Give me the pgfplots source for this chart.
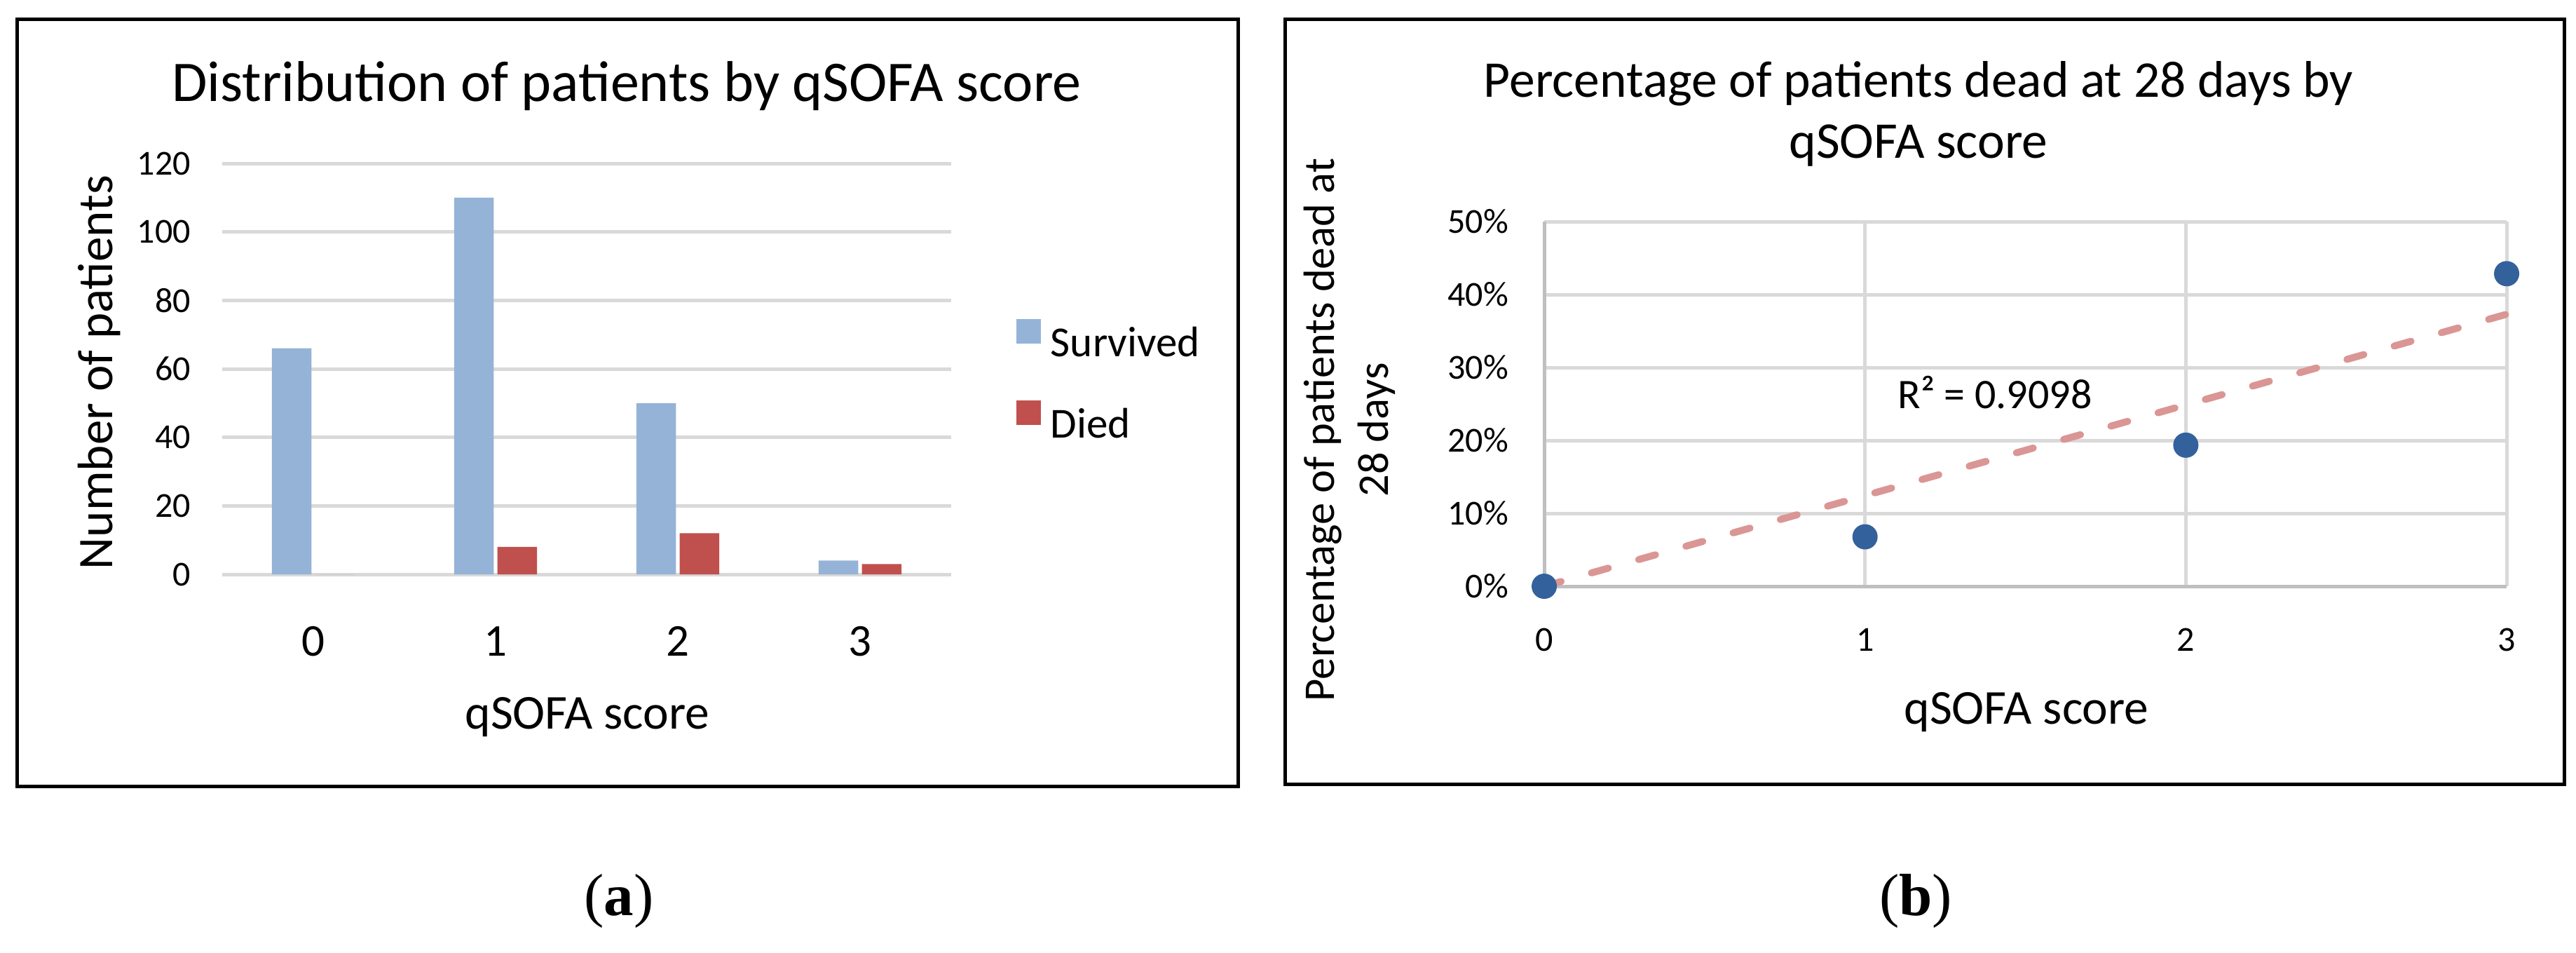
\documentclass[border=0pt]{standalone}
\usepackage{fontspec}
\setmainfont{Carlito}
\newfontfamily\serif{Liberation Serif}
\usepackage{pgfplots}
\pgfplotsset{compat=1.18}
\definecolor{surv}{HTML}{95B3D7}
\definecolor{died}{HTML}{C0504D}
\definecolor{gridc}{HTML}{D9D9D9}
\definecolor{axisc}{HTML}{BFBFBF}
\definecolor{mblue}{HTML}{33619C}
\definecolor{trend}{HTML}{DA9694}
\newcommand{\fs}[1]{\fontsize{#1}{#1}\selectfont}
\begin{document}
\begin{tikzpicture}
\path[use as bounding box] (0,0) rectangle (735pt,271.6pt);
\draw[line width=1pt] (4.8pt,266.2pt) rectangle (353.2pt,47.4pt);
\draw[line width=1pt] (366.6pt,266.2pt) rectangle (731.6pt,48pt);

\begin{axis}[
  at={(63.4pt,107.8pt)}, anchor=south west,
  scale only axis, width=208pt, height=117.2pt,
  xmin=-0.5, xmax=3.5, ymin=0, ymax=120,
  xtick={0,1,2,3}, ytick={0,20,...,120},
  ymajorgrids, grid style={gridc, line width=1pt},
  axis line style={draw=none}, major tick length=0pt,
  /pgf/number format/assume math mode=true,
  yticklabel style={anchor=east, inner sep=0pt, xshift=-8.8pt, font=\fs{10}},
  xticklabel style={anchor=base, inner sep=0pt, yshift=-23.2pt, font=\fs{13}},
  ybar=1.06pt, bar width=11.3pt,
  legend style={draw=none, fill=none, at={(rel axis cs:1.0894,0.622)}, anchor=north west,
    inner sep=0pt, outer sep=0pt, row sep=11pt, font=\fs{12.2}, nodes={inner sep=0pt}},
  legend cell align=left,
  legend image code/.code={\fill[#1] (0pt,0.3pt) rectangle (7pt,7.3pt); \path (9.8pt,0pt);},
]
\addplot[fill=surv, draw=none] coordinates {(0,66) (1,110) (2,50) (3,4)};
\addplot[fill=died, draw=none] coordinates {(0,0) (1,8) (2,12) (3,3)};
\legend{Survived, Died}
\end{axis}

\begin{axis}[
  at={(440.6pt,104.4pt)}, anchor=south west,
  scale only axis, width=274.6pt, height=104pt,
  xmin=0, xmax=3, ymin=0, ymax=50,
  xtick={0,1,2,3}, ytick={0,10,...,50},
  grid=major, grid style={gridc, line width=1pt},
  axis x line*=bottom, axis y line*=left,
  axis line style={draw=axisc, line width=1pt, -},
  x axis line style={-}, y axis line style={-},
  major tick length=0pt,
  /pgf/number format/assume math mode=true,
  yticklabel={\pgfmathprintnumber{\tick}\%},
  yticklabel style={anchor=east, inner sep=0pt, xshift=-10pt, font=\fs{10}},
  xticklabel style={anchor=base, inner sep=0pt, yshift=-18.4pt, font=\fs{10}},
  clip=false,
]
\addplot[only marks, mark=*, mark size=3.4pt, mark options={fill=mblue, draw=mblue}]
  coordinates {(0,0) (1,6.78) (2,19.35) (3,42.86)};
\addplot[trend, line width=2pt, line cap=round, dash pattern=on 5pt off 9pt]
  coordinates {(0,0) (3,37.3)};
\node[font=\fs{12}, anchor=base] at (axis cs:1.405,24.4) {R² = 0.9098};
\end{axis}

\node[font=\fs{16.4}, anchor=base] at (178.8pt,242.8pt) {Distribution of patients by qSOFA score};
\node[font=\fs{14.7}, anchor=base] at (547.4pt,244pt) {Percentage of patients dead at 28 days by};
\node[font=\fs{14.7}, anchor=base] at (547.4pt,226.6pt) {qSOFA score};
\node[font=\fs{13.9}, anchor=base] at (167.6pt,63.8pt) {qSOFA score};
\node[font=\fs{13.9}, anchor=base] at (578.2pt,65.2pt) {qSOFA score};
\node[font=\fs{14.2}, anchor=base, rotate=90] at (32pt,165.4pt) {Number of patients};
\node[font=\fs{12.5}, anchor=base, rotate=90] at (380.6pt,149pt) {Percentage of patients dead at};
\node[font=\fs{12.5}, anchor=base, rotate=90] at (396pt,149pt) {28 days};
\node[font=\serif\fs{17}, anchor=base] at (176.6pt,10.6pt) {(\textbf{a})};
\node[font=\serif\fs{17}, anchor=base] at (546.6pt,10.6pt) {(\textbf{b})};
\end{tikzpicture}
\end{document}
